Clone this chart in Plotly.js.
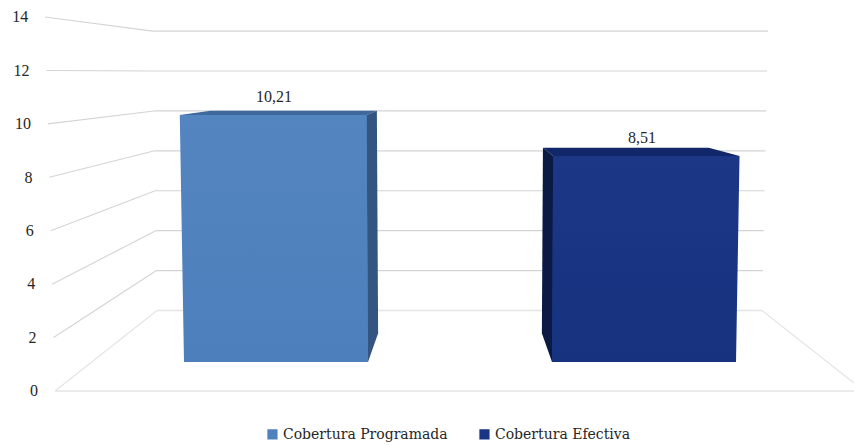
<!DOCTYPE html>
<html>
<head>
<meta charset="utf-8">
<script src="https://cdn.plot.ly/plotly-3.0.1.min.js"></script>
<style>html,body{margin:0;padding:0;background:#fff}#chart{width:854px;height:445px}</style>
</head>
<body>
<div id="chart"></div>
<script>
const seriesNames = ['Cobertura Programada', 'Cobertura Efectiva'];
const seriesValues = [10.21, 8.51];
const axisTicks = [0, 2, 4, 6, 8, 10, 12, 14];
const barOffsets = [-184, 184];

// Style
const frontColors = ['#4f81bd', '#1a3583'];
const gradTop = ['#5485c0', '#1b3786'];
const gradBottom = ['#4c7fbc', '#17327e'];
const topColors = ['#3f689c', '#11276a'];
const sideColors = ['#34557f', '#0a1a45'];
const FONT = 'Liberation Serif';
const LEGEND_FONT = 'DejaVu Serif';
const TEXT = '#262626';

// Oblique projection of the chart's box, in axis units (x in horizontal units, y in value units)
const CX = 460, HALF = 92;
const faceY = v => 1.086 + v * 0.9057;
const lift = v => 0.09 * (12 - v);
const xFront = (off, v) => CX + off * (1 + 0.0015 * v);
const xBack = x => x + (CX - x) * 0.11;
const wallY = v => 3.014 + v * 0.747;
const wallLeft = v => 157 - 0.3 * v;
const wallRight = v => 762 + 0.43 * v;
const edgeLeft = v => 55 - 0.714 * v;
const labelX = v => 38 - 0.7 * v;

const line = (x0, y0, x1, y1, color, width) => ({
  type: 'line', layer: 'below', xref: 'x', yref: 'y', x0, y0, x1, y1,
  line: {color, width}
});
const shapes = [];
axisTicks.forEach(v => {
  const c = v === 0 ? '#e4e4e4' : '#d4d4d4';
  const w = v === 0 ? 1.6 : 1.2;
  shapes.push(line(edgeLeft(v), v, wallLeft(v), wallY(v), c, 1.1));
  shapes.push(line(wallLeft(v), wallY(v), wallRight(v), wallY(v), c, w));
});
shapes.push(line(edgeLeft(0), 0, 854, 0, '#e4e4e4', 1.6));
shapes.push(line(wallRight(0), wallY(0), 854, 0.3, '#e4e4e4', 1.1));

const poly = (xs, ys, color, grad) => ({
  type: 'scatter', mode: 'lines', x: [...xs, xs[0]], y: [...ys, ys[0]],
  fill: 'toself', fillcolor: color, line: {width: 0, color},
  ...(grad ? {fillgradient: {type: 'vertical', colorscale: [[0, grad[1]], [1, grad[0]]]}} : {}),
  showlegend: false, hoverinfo: 'skip'
});

const traces = [];
seriesValues.forEach((v, i) => {
  traces.push({
    type: 'bar', name: seriesNames[i], x: [CX + barOffsets[i]], y: [v * 0.9057],
    base: [faceY(0)], width: [HALF * 2], marker: {color: frontColors[i], line: {width: 0}},
    hoverinfo: 'skip'
  });
});
seriesValues.forEach((v, i) => {
  const off = barOffsets[i];
  const l0 = xFront(off - HALF, 0), r0 = xFront(off + HALF, 0);
  const l = xFront(off - HALF, v), r = xFront(off + HALF, v);
  const tb = faceY(v), bb = faceY(0);
  const tBack = tb + lift(v), bBack = bb + lift(0);
  traces.push(poly([l, xBack(l), xBack(r), r], [tb, tBack, tBack, tb], topColors[i]));
  if (off < 0) traces.push(poly([r, xBack(r), xBack(r0), r0], [tb, tBack, bBack, bb], sideColors[i]));
  else traces.push(poly([l, xBack(l), xBack(l0), l0], [tb, tBack, bBack, bb], sideColors[i]));
  traces.push(poly([l0, l, r, r0], [bb, tb, tb, bb], frontColors[i], [gradTop[i], gradBottom[i]]));
});
traces.push({
  type: 'scatter', mode: 'text', showlegend: false, hoverinfo: 'skip', cliponaxis: false,
  x: seriesValues.map((v, i) => CX + barOffsets[i] - 2),
  y: seriesValues.map(v => faceY(v) + 0.33),
  text: seriesValues.map(v => v.toFixed(2).replace('.', ',')),
  textposition: 'top center', textfont: {family: FONT, size: 16, color: TEXT}
});
traces.push({
  type: 'scatter', mode: 'text', showlegend: false, hoverinfo: 'skip', cliponaxis: false,
  x: axisTicks.map(labelX), y: axisTicks.map(v => v - 0.05),
  text: axisTicks.map(String),
  textposition: 'middle left', textfont: {family: FONT, size: 16, color: TEXT}
});

const layout = {
  width: 854, height: 445,
  margin: {l: 0, r: 0, t: 13, b: 50},
  paper_bgcolor: '#fff', plot_bgcolor: '#fff',
  font: {family: FONT, size: 16, color: TEXT},
  xaxis: {range: [0, 854], visible: false, fixedrange: true},
  yaxis: {range: [-0.15, 14.15], tickvals: axisTicks, showgrid: false, zeroline: false, showticklabels: false, showline: false, ticks: '', fixedrange: true},
  barmode: 'overlay',
  showlegend: true,
  legend: {orientation: 'h', xref: 'container', yref: 'container', x: 0.2845, xanchor: 'left', y: 0.024, yanchor: 'middle',
    entrywidth: 167, entrywidthmode: 'pixels', tracegroupgap: 0,
    font: {family: LEGEND_FONT, size: 14, color: TEXT}, bgcolor: 'rgba(0,0,0,0)'},
  shapes
};
Plotly.newPlot('chart', traces, layout, {displayModeBar: false, staticPlot: true}).then(gd => {
  // Bring each legend swatch next to its label, as in the source chart
  gd.querySelectorAll('.legend .legendsymbols').forEach(el => el.setAttribute('transform', 'translate(12.5,0.5) scale(0.85)'));
});
</script>
</body>
</html>
